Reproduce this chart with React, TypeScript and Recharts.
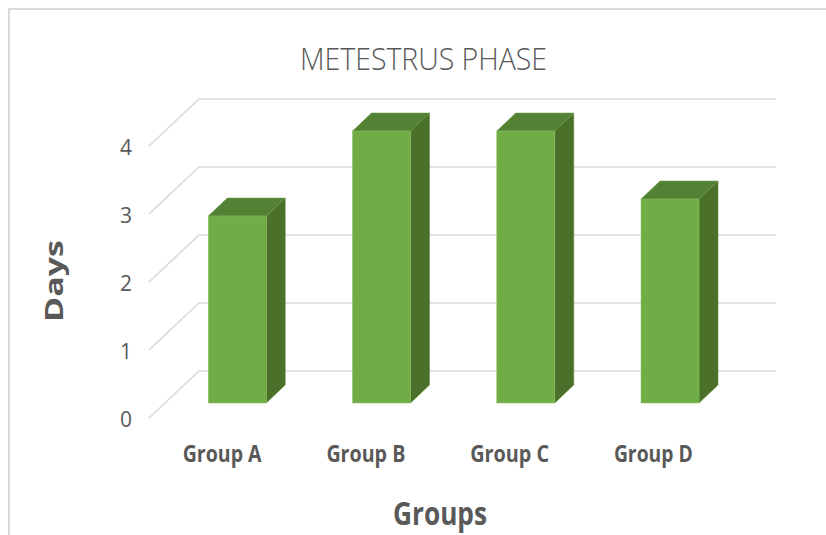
import React from 'react';
import { BarChart, Bar, XAxis, YAxis, CartesianGrid, Label, Customized } from 'recharts';

const categories = ['Group A', 'Group B', 'Group C', 'Group D'];
const dayValues = [2.75, 4, 4, 3];
const yTicks = [0, 1, 2, 3, 4];

const data = categories.map((group, i) => ({ group, days: dayValues[i] }));

const FONT = '"Open Sans", "Liberation Sans", sans-serif';
const TEXT = '#595959';
const GRID = '#d9d9d9';
const FRONT = '#70ad47';
const TOP = '#548235';
const SIDE = '#4a7029';
const DX = 19;
const DY = 18;

const Bar3D = (props: any) => {
  const { x, y, width, height } = props;
  if (height <= 0) return null;
  const top = `${x},${y} ${x + DX},${y - DY} ${x + width + DX},${y - DY} ${x + width},${y}`;
  const side = `${x + width},${y} ${x + width + DX},${y - DY} ${x + width + DX},${y + height - DY} ${x + width},${y + height}`;
  return (
    <g>
      <polygon points={side} fill={SIDE} stroke="#5e8a3d" strokeWidth={0.5} />
      <polygon points={top} fill={TOP} stroke="#6a9a48" strokeWidth={0.5} />
      <rect x={x} y={y} width={width} height={height} fill={FRONT} stroke="#8cc063" strokeWidth={0.5} />
    </g>
  );
};

const GridLine = (props: any) => {
  const { x1, y1, x2 } = props;
  const d = `M${x1 - 16},${y1 + 15} L${x1 + 34},${y1 - 32} L${x2 + 34},${y1 - 32}`;
  return <path key={props.key ?? `g-${y1}`} d={d} fill="none" stroke={GRID} strokeWidth={1.6} />;
};

const YTick = (props: any) => {
  const { x, y, payload } = props;
  return (
    <text x={x - 39} y={y + 24} textAnchor="middle" fontFamily={FONT} fontSize={21} fill={TEXT}>
      {payload.value}
    </text>
  );
};

const XTick = (props: any) => {
  const { x, y, payload, index } = props;
  return (
    <text
      x={x - 15 - 0.5 * index}
      y={y + 59}
      textAnchor="middle"
      fontFamily={FONT}
      fontWeight={700}
      fontSize={23}
      fill={TEXT}
      textLength={79}
      lengthAdjust="spacingAndGlyphs"
    >
      {payload.value}
    </text>
  );
};

const DaysLabel = (props: any) => {
  const vb = props.viewBox;
  const cx = vb.x - 42;
  const cy = vb.y + vb.height / 2 + 14;
  return (
    <text
      x={cx}
      y={cy}
      transform={`rotate(-90, ${cx}, ${cy})`}
      textAnchor="middle"
      fontFamily={FONT}
      fontWeight={700}
      fontSize={25}
      fill={TEXT}
      textLength={82}
      lengthAdjust="spacingAndGlyphs"
    >
      Days
    </text>
  );
};

const GroupsLabel = (props: any) => {
  const vb = props.viewBox;
  const cx = vb.x + vb.width / 2 - 13.5;
  const cy = vb.y + 122;
  return (
    <text
      x={cx}
      y={cy}
      textAnchor="middle"
      fontFamily={FONT}
      fontWeight={700}
      fontSize={32}
      fill={TEXT}
      textLength={94}
      lengthAdjust="spacingAndGlyphs"
    >
      Groups
    </text>
  );
};

const Decor = () => (
  <g>
    <line x1={8} y1={9} x2={826} y2={9} stroke={GRID} strokeWidth={2} />
    <line x1={9} y1={9} x2={9} y2={535} stroke={GRID} strokeWidth={2} />
    <text
      x={423.5}
      y={70}
      textAnchor="middle"
      fontFamily={FONT}
      fontWeight={300}
      fontSize={31}
      fill={TEXT}
      textLength={247}
      lengthAdjust="spacingAndGlyphs"
    >
      METESTRUS PHASE
    </text>
  </g>
);

export default function App() {
  return (
    <div style={{ position: 'absolute', left: 0, top: 0, width: 826, height: 535, background: '#fff' }}>
      <BarChart
        width={826}
        height={535}
        data={data}
        margin={{ top: 131, right: 84, bottom: 72, left: 105 }}
        barCategoryGap="30%"
      >
        <Customized component={Decor} />
        <CartesianGrid vertical={false} horizontal={GridLine} />
        <XAxis
          dataKey="group"
          height={60}
          axisLine={false}
          tickLine={false}
          tickSize={0}
          tickMargin={0}
          tick={XTick}
        >
          <Label content={GroupsLabel} />
        </XAxis>
        <YAxis
          width={60}
          domain={[0, 4]}
          ticks={yTicks}
          axisLine={false}
          tickLine={false}
          tickSize={0}
          tickMargin={0}
          tick={YTick}
        >
          <Label content={DaysLabel} />
        </YAxis>
        <Bar dataKey="days" isAnimationActive={false} shape={Bar3D} />
      </BarChart>
    </div>
  );
}
